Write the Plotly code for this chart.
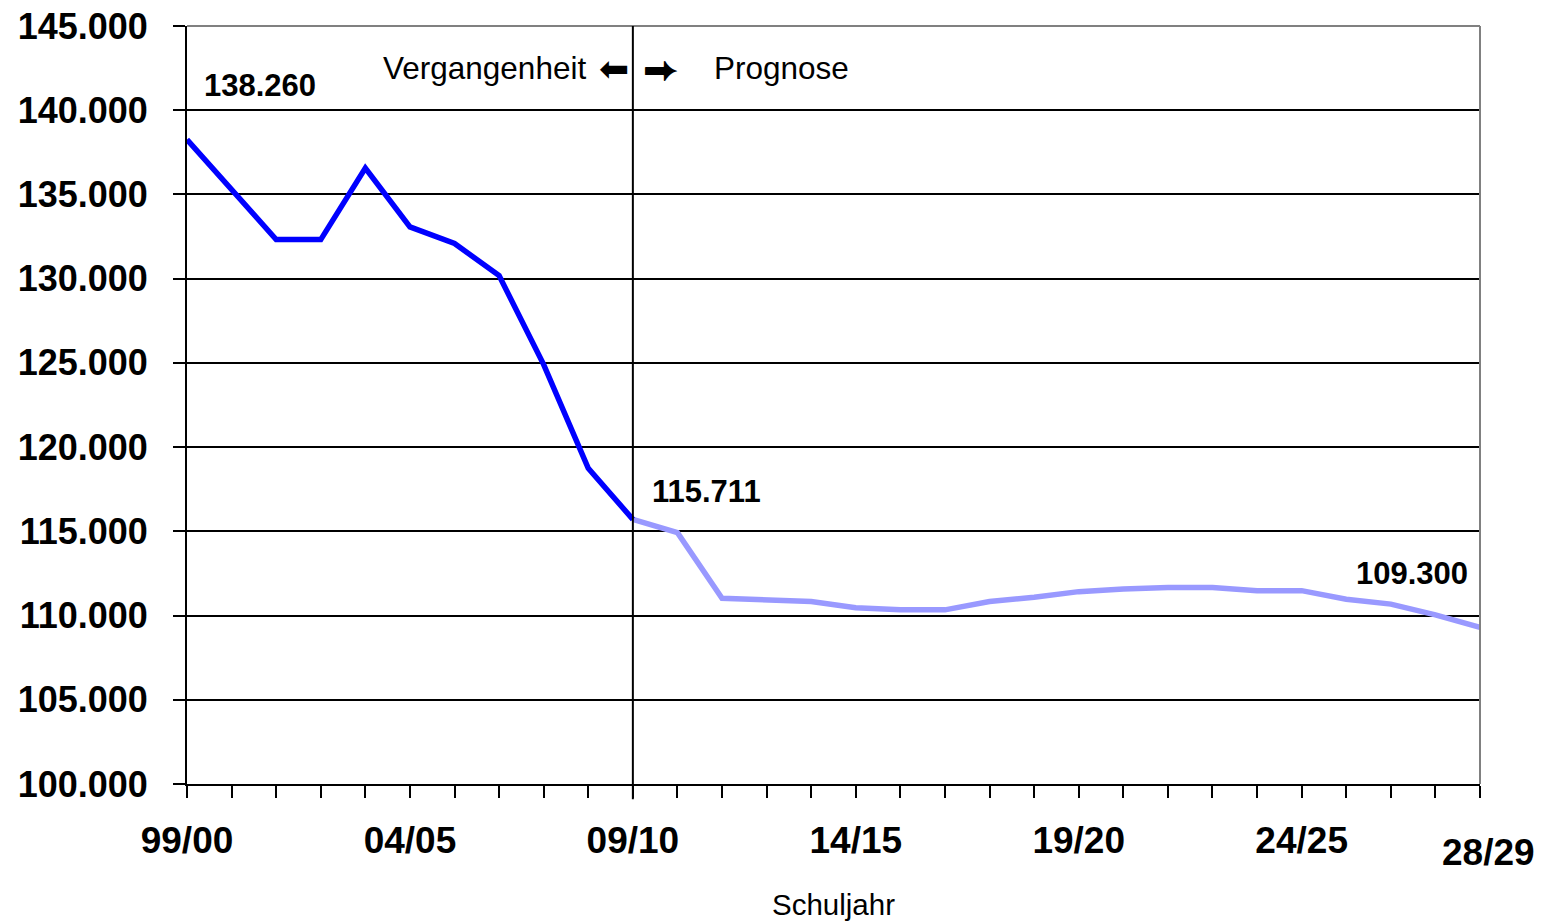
import plotly.graph_objects as go

school_years = ["99/00", "00/01", "01/02", "02/03", "03/04", "04/05", "05/06", "06/07", "07/08", "08/09",
                "09/10", "10/11", "11/12", "12/13", "13/14", "14/15", "15/16", "16/17", "17/18", "18/19",
                "19/20", "20/21", "21/22", "22/23", "23/24", "24/25", "25/26", "26/27", "27/28", "28/29"]

past_values = [138260, 135250, 132320, 132320, 136570, 133070, 132090, 130180, 124900, 118740, 115711]
forecast_values = [115711, 114920, 111030, 110930, 110830, 110470, 110340, 110340, 110830, 111090,
                   111420, 111570, 111660, 111660, 111480, 111480, 110970, 110680, 110040, 109300]

labelled_ticks = ["99/00", "04/05", "09/10", "14/15", "19/20", "24/25"]
y_ticks = [100000, 105000, 110000, 115000, 120000, 125000, 130000, 135000, 140000, 145000]

FONT = "Liberation Sans, Arial, sans-serif"

def de_num(v):
    return f"{v:,}".replace(",", ".")

n_past = len(past_values)
x_past = list(range(n_past))
x_fore = list(range(n_past - 1, n_past - 1 + len(forecast_values)))

fig = go.Figure()
fig.add_trace(go.Scatter(x=x_fore, y=forecast_values, mode="lines",
                         line=dict(color="#9999FF", width=5.5), hoverinfo="skip", showlegend=False))
fig.add_trace(go.Scatter(x=x_past, y=past_values, mode="lines",
                         line=dict(color="#0000FF", width=5.5), hoverinfo="skip", showlegend=False))

tickvals = list(range(len(school_years)))
ticktext = [s if s in labelled_ticks else "" for s in school_years]

fig.update_xaxes(range=[0, len(school_years) - 1], tickvals=tickvals, ticktext=ticktext,
                 ticks="outside", ticklen=12, tickwidth=2, tickcolor="black",
                 showline=True, linecolor="black", linewidth=2, showgrid=False, zeroline=False,
                 automargin=False, ticklabeloverflow="allow",
                 tickfont=dict(family=FONT, size=37, color="black", weight="bold"), ticklabelstandoff=11)
fig.update_yaxes(range=[100000, 145000], tickvals=y_ticks,
                 ticktext=[de_num(v) for v in y_ticks],
                 ticks="outside", ticklen=12, tickwidth=2, tickcolor="black",
                 showline=True, linecolor="black", linewidth=2,
                 showgrid=True, gridcolor="black", gridwidth=2, zeroline=False,
                 automargin=False, ticklabeloverflow="allow",
                 tickfont=dict(family=FONT, size=36, color="black", weight="bold"), ticklabelstandoff=18)

# top and right plot border (grey)
fig.add_shape(type="line", xref="paper", yref="paper", x0=0, x1=1, y0=1, y1=1,
              line=dict(color="#808080", width=2), layer="above")
fig.add_shape(type="line", xref="paper", yref="paper", x0=1, x1=1, y0=0, y1=1,
              line=dict(color="#808080", width=2), layer="above")
# divider past / forecast
split_x = n_past - 1
fig.add_shape(type="line", xref="x", yref="paper", x0=split_x, x1=split_x, y0=-0.02, y1=1,
              line=dict(color="black", width=2), layer="above")

ann_font = dict(family=FONT, size=31, color="black")
annotations = [
    dict(x=0, y=past_values[0], text=f"<b>{de_num(past_values[0])}</b>", xanchor="left",
         yanchor="middle", xshift=15, yshift=54, font=ann_font),
    dict(x=split_x, y=past_values[-1], text=f"<b>{de_num(past_values[-1])}</b>", xanchor="left",
         yanchor="middle", xshift=17, yshift=28, font=ann_font),
    dict(x=len(school_years) - 1, y=forecast_values[-1], text=f"<b>{de_num(forecast_values[-1])}</b>",
         xanchor="right", yanchor="middle", xshift=-10, yshift=54, font=ann_font),
    dict(x=len(school_years) - 1, y=100000, text=f"<b>{school_years[-1]}</b>", xanchor="center",
         yanchor="middle", xshift=8, yshift=-68, font=dict(family=FONT, size=37, color="black")),
    dict(x=split_x, y=145000, text="Vergangenheit", xanchor="right", yanchor="middle",
         xshift=-45, yshift=-42, font=dict(family=FONT, size=31.5, color="black")),
    dict(x=split_x, y=145000, text="\u2B05", xanchor="center", yanchor="middle",
         xshift=-19, yshift=-42, font=dict(family="DejaVu Sans", size=36, color="black")),
    dict(x=split_x, y=145000, text="\u2B95", xanchor="center", yanchor="middle",
         xshift=28, yshift=-42, font=dict(family="DejaVu Sans", size=36, color="black")),
    dict(x=split_x, y=145000, text="Prognose", xanchor="left", yanchor="middle",
         xshift=79, yshift=-42, font=dict(family=FONT, size=31.5, color="black")),
    dict(xref="paper", yref="paper", x=0.5, y=0, text="Schuljahr", xanchor="center",
         yanchor="middle", yshift=-120, font=dict(family=FONT, size=29.5, color="black")),
]
for a in annotations:
    a.setdefault("xref", "x")
    a.setdefault("yref", "y")
    a["showarrow"] = False
fig.update_layout(annotations=annotations)

fig.update_layout(width=1550, height=921, margin=dict(l=187, r=70, t=26, b=137, autoexpand=False),
                  plot_bgcolor="white", paper_bgcolor="white", showlegend=False)

# remove the default 8px page margin so the figure fills the window exactly
fig.write_html("out.html", config={"displayModeBar": False},
               post_script="document.body.style.margin='0';")
